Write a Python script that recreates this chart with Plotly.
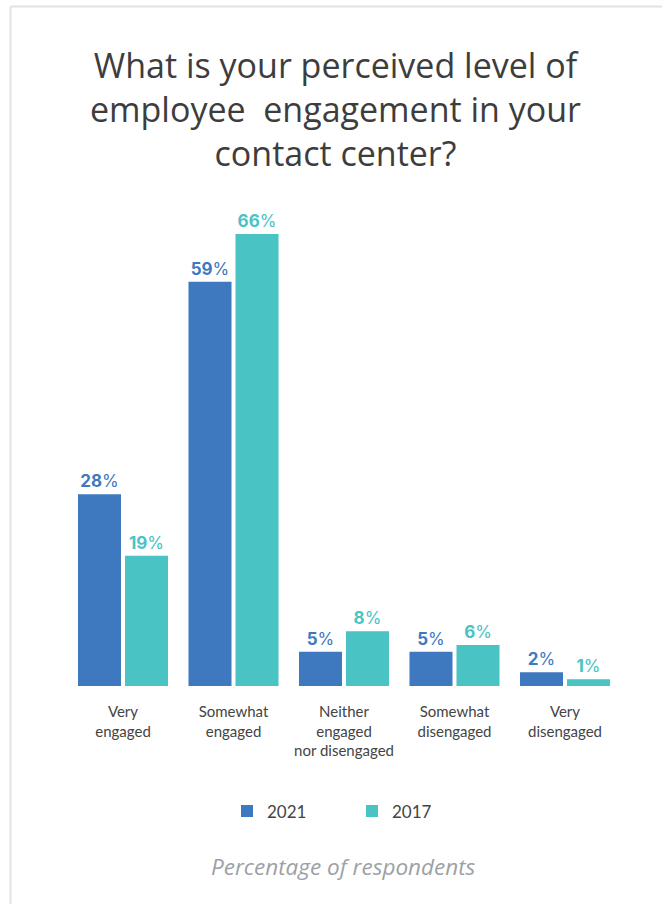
import plotly.graph_objects as go

# Survey responses: perceived employee engagement in the contact center
categories = [
    "Very<br>engaged",
    "Somewhat<br>engaged",
    "Neither<br>engaged<br>nor disengaged",
    "Somewhat<br>disengaged",
    "Very<br>disengaged",
]
values_2021 = [28, 59, 5, 5, 2]
values_2017 = [19, 66, 8, 6, 1]
series_names = ["2021", "2017"]

BLUE = "#3e79bf"
TEAL = "#49c3c3"
TEXT = "#444444"

W, H = 662, 904

fig = go.Figure()
for name, vals, color in [(series_names[0], values_2021, BLUE),
                          (series_names[1], values_2017, TEAL)]:
    fig.add_trace(go.Bar(
        name=name,
        x=categories,
        y=vals,
        marker=dict(color=color, line=dict(width=0)),
        texttemplate="<b>%{y}</b>%",
        textposition="outside",
        cliponaxis=False,
        textfont=dict(family="Inter", size=17, color=color),
    ))

fig.update_layout(
    width=W,
    height=H,
    autosize=False,
    margin=dict(l=0, r=0, t=0, b=0),
    paper_bgcolor="white",
    plot_bgcolor="white",
    barmode="group",
    bargap=0.149,
    bargroupgap=0.085,
    title=dict(
        text="What is your perceived level of<br>employee&nbsp; engagement in your<br>contact center?",
        x=335.5 / W,
        xanchor="center",
        y=1 - 78 / H,
        yanchor="top",
        font=dict(family="Open Sans", size=34, color="#3d3d3d"),
    ),
    xaxis=dict(
        domain=[67.75 / W, 620.25 / W],
        showline=False,
        showgrid=False,
        zeroline=False,
        ticks="",
        ticklabelstandoff=15,
        tickfont=dict(family="Lato", size=15, color=TEXT),
    ),
    yaxis=dict(
        visible=False,
        range=[0, 70.95],
        domain=[(H - 686) / H, (H - 200) / H],
    ),
    legend=dict(
        orientation="h",
        x=352 / W,
        xanchor="center",
        y=(H - 811.5) / H,
        yanchor="middle",
        font=dict(family="Lato", size=17, color=TEXT),
        entrywidth=80,
        traceorder="normal",
    ),
    showlegend=True,
    annotations=[
        dict(
            text="<i>Percentage of respondents</i>",
            x=343 / W,
            y=(H - 866) / H,
            xref="paper",
            yref="paper",
            xanchor="center",
            yanchor="middle",
            showarrow=False,
            font=dict(family="Open Sans", size=22.5, color="#9ca1a5"),
        )
    ],
    shapes=[
        # card frame: top and left edges
        dict(type="line", xref="paper", yref="paper",
             x0=10.5 / W, x1=1, y0=1 - 6.5 / H, y1=1 - 6.5 / H,
             line=dict(color="#e2e2e2", width=2)),
        dict(type="line", xref="paper", yref="paper",
             x0=10.5 / W, x1=10.5 / W, y0=0, y1=1 - 6.5 / H,
             line=dict(color="#e2e2e2", width=2)),
    ],
)

fig.write_html("out.html")
